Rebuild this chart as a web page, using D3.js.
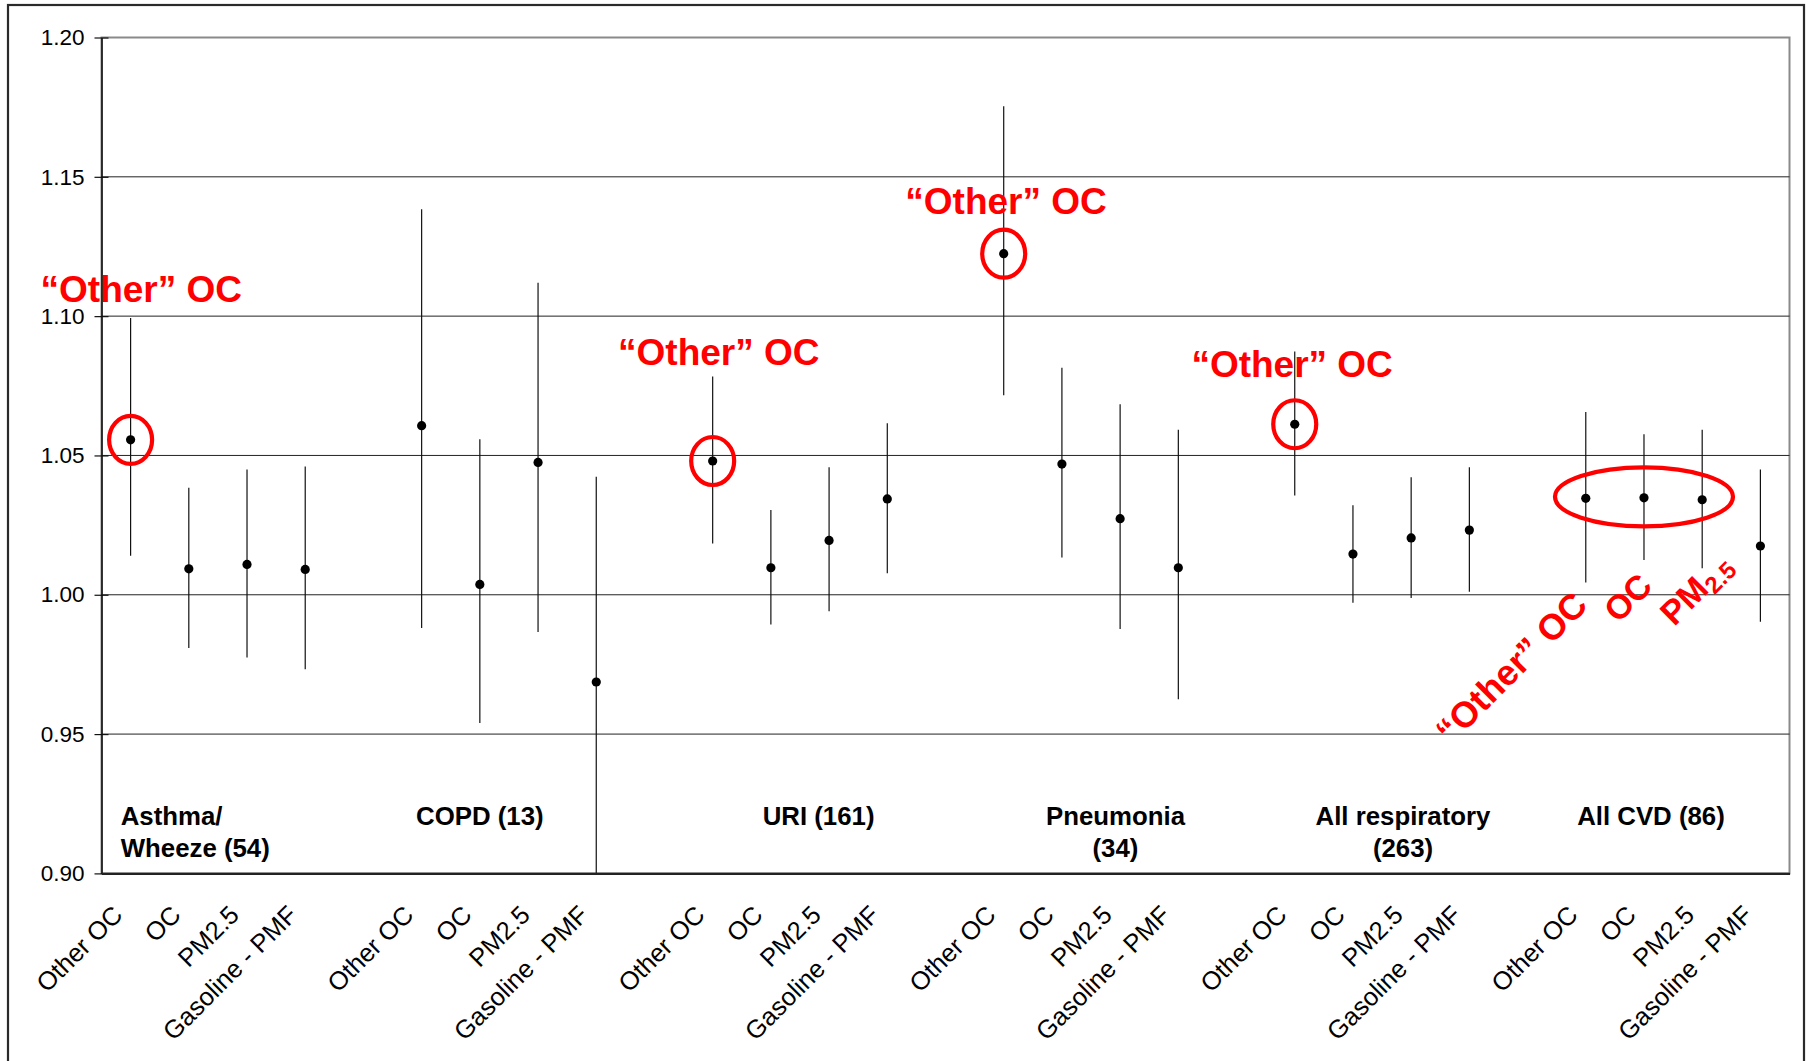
<!DOCTYPE html>
<html><head><meta charset="utf-8">
<script src="https://cdn.jsdelivr.net/npm/d3@7"></script>
<style>html,body{margin:0;padding:0;background:#fff;} svg{display:block;}</style>
</head><body>
<script>
// ---------------- data ----------------
const groupNames = [["Asthma/", "Wheeze (54)"], ["COPD (13)"], ["URI (161)"], ["Pneumonia", "(34)"], ["All respiratory", "(263)"], ["All CVD (86)"]];
const pollutants = ["Other OC", "OC", "PM2.5", "Gasoline - PMF"];
// rows = groups, columns = pollutants
const estimate = [
  [1.0556, 1.0093, 1.0109, 1.0091],
  [1.0607, 1.0037, 1.0475, 0.9687],
  [1.0480, 1.0097, 1.0195, 1.0344],
  [1.1224, 1.0469, 1.0273, 1.0097],
  [1.0612, 1.0146, 1.0204, 1.0232],
  [1.0346, 1.0348, 1.0341, 1.0175]
];
const lower = [
  [1.0140, 0.9809, 0.9775, 0.9733],
  [0.9881, 0.9540, 0.9866, 0.8950],
  [1.0184, 0.9893, 0.9941, 1.0077],
  [1.0716, 1.0134, 0.9877, 0.9625],
  [1.0356, 0.9971, 0.9988, 1.0011],
  [1.0044, 1.0125, 1.0095, 0.9903]
];
const upper = [
  [1.0993, 1.0384, 1.0450, 1.0460],
  [1.1384, 1.0558, 1.1120, 1.0424],
  [1.0783, 1.0304, 1.0458, 1.0616],
  [1.1753, 1.0815, 1.0684, 1.0592],
  [1.0873, 1.0321, 1.0422, 1.0458],
  [1.0656, 1.0576, 1.0592, 1.0450]
];
const yTicks = [0.90, 0.95, 1.00, 1.05, 1.10, 1.15, 1.20];
const circledGroups = [0, 2, 3, 4];      // "Other" OC highlighted
const ellipseGroup = 5;                  // All CVD: first three highlighted
const annotationText = "\u201COther\u201D OC";

// ---------------- layout ----------------
const W = 1809, H = 1061;
const L = 101.5, R = 1789.5, T = 37.5, B = 873.4;
const FONT = "'Liberation Sans', Arial, Helvetica, sans-serif";
const RED = "#FF0000";
const slotsPerGroup = pollutants.length + 1;
const nSlots = groupNames.length * slotsPerGroup - 1;

const x = d3.scaleLinear().domain([-0.5, nSlots - 0.5]).range([L, R]);
const y = d3.scaleLinear().domain([0.90, 1.20]).range([B, T]);

const points = [];
groupNames.forEach((g, gi) => pollutants.forEach((p, pi) => {
  points.push({g: gi, p: pi, name: p, slot: gi * slotsPerGroup + pi,
    est: estimate[gi][pi], lo: lower[gi][pi], hi: upper[gi][pi]});
}));

const svg = d3.select("body").append("svg").attr("width", W).attr("height", H)
  .style("font-family", FONT);

// outer frame
svg.append("rect").attr("x", 8).attr("y", 5).attr("width", 1796).attr("height", 1080)
  .attr("fill", "#fff").attr("stroke", "#2a2a2a").attr("stroke-width", 2.2);

// plot area border
svg.append("rect").attr("x", L).attr("y", T).attr("width", R - L).attr("height", B - T)
  .attr("fill", "none").attr("stroke", "#8a8a8a").attr("stroke-width", 2);

// gridlines
svg.append("g").selectAll("line").data(yTicks.filter(v => v > 0.9 && v < 1.2)).join("line")
  .attr("x1", L).attr("x2", R).attr("y1", d => y(d)).attr("y2", d => y(d))
  .attr("stroke", "#222").attr("stroke-width", 1);

// clip
svg.append("clipPath").attr("id", "plotclip").append("rect")
  .attr("x", L).attr("y", T).attr("width", R - L).attr("height", B - T);

const marks = svg.append("g").attr("clip-path", "url(#plotclip)");
marks.selectAll("line.err").data(points).join("line").attr("class", "err")
  .attr("x1", d => x(d.slot)).attr("x2", d => x(d.slot))
  .attr("y1", d => y(d.lo)).attr("y2", d => y(d.hi))
  .attr("stroke", "#111").attr("stroke-width", 1.2);
marks.selectAll("circle.pt").data(points).join("circle").attr("class", "pt")
  .attr("cx", d => x(d.slot)).attr("cy", d => y(d.est)).attr("r", 4.6).attr("fill", "#000");

// y axis
const yAxis = svg.append("g").attr("transform", `translate(${L},0)`)
  .call(d3.axisLeft(y).tickValues(yTicks).tickFormat(d3.format(".2f"))
    .tickSizeInner(7).tickSizeOuter(0).tickPadding(10));
yAxis.select(".domain").attr("stroke", "#111").attr("stroke-width", 1.6);
yAxis.selectAll(".tick line").attr("x1", 7).attr("stroke", "#111").attr("stroke-width", 1.2);
yAxis.selectAll(".tick text").attr("font-size", 22.5).attr("font-family", FONT).attr("fill", "#000");

// x axis
const xAxis = svg.append("g").attr("transform", `translate(0,${B})`)
  .call(d3.axisBottom(x).tickValues(points.map(d => d.slot))
    .tickFormat(s => points.find(d => d.slot === s).name).tickSize(0).tickSizeOuter(0));
xAxis.select(".domain").attr("stroke", "#222").attr("stroke-width", 2.2);
xAxis.selectAll(".tick text").attr("font-size", 25.5).attr("font-family", FONT).attr("fill", "#000")
  .attr("x", 0).attr("y", 0).attr("dy", 0)
  .attr("transform", "translate(-7,43) rotate(-45)").style("text-anchor", "end");

// group labels
const groupLabelLayout = [
  {dx: -0.17, anchor: "start"}, {dx: 1.0, anchor: "middle"}, {dx: 1.82, anchor: "middle"},
  {dx: 1.92, anchor: "middle"}, {dx: 1.86, anchor: "middle"}, {dx: 1.12, anchor: "middle"}
];
const gl = svg.append("g");
groupNames.forEach((lines, gi) => {
  const lay = groupLabelLayout[gi];
  const t = gl.append("text").attr("x", x(gi * slotsPerGroup + lay.dx)).attr("y", B - 48.4)
    .attr("text-anchor", lay.anchor).attr("font-size", 25.8).attr("font-weight", "bold").attr("fill", "#000");
  lines.forEach((ln, li) => t.append("tspan").attr("x", x(gi * slotsPerGroup + lay.dx))
    .attr("dy", li === 0 ? 0 : 31.7).text(ln));
});

// red circles
const ann = svg.append("g");
ann.selectAll("ellipse.c").data(points.filter(d => d.p === 0 && circledGroups.includes(d.g))).join("ellipse")
  .attr("cx", d => x(d.slot)).attr("cy", d => y(d.est)).attr("rx", 21.5).attr("ry", 24)
  .attr("fill", "none").attr("stroke", RED).attr("stroke-width", 4.2);
const eg = points.filter(d => d.g === ellipseGroup && d.p === 1)[0];
ann.append("ellipse").attr("cx", x(eg.slot)).attr("cy", y(eg.est) - 1).attr("rx", 89).attr("ry", 29.5)
  .attr("fill", "none").attr("stroke", RED).attr("stroke-width", 4.2);

// red horizontal labels
const redLabelLayout = [
  {g: 0, dx: 0.184, v: 1.1052}, {g: 2, dx: 0.105, v: 1.0823},
  {g: 3, dx: 0.04, v: 1.1367}, {g: 4, dx: -0.045, v: 1.078}
];
ann.selectAll("text.red").data(redLabelLayout).join("text").attr("class", "red")
  .attr("x", d => x(d.g * slotsPerGroup + d.dx)).attr("y", d => y(d.v))
  .attr("text-anchor", "middle").attr("font-size", 37).attr("font-weight", "bold")
  .attr("fill", RED).text(annotationText);

// red rotated labels for All CVD
const rotLayout = [
  {text: annotationText, sub: null, slot: 22.68, v: 0.9458, size: 36},
  {text: "OC", sub: null, slot: 25.556, v: 0.9895, size: 34},
  {text: "PM", sub: "2.5", slot: 26.52, v: 0.9884, size: 34}
];
rotLayout.forEach(d => {
  const t = ann.append("text")
    .attr("transform", `translate(${x(d.slot)},${y(d.v)}) rotate(-45)`)
    .attr("font-size", d.size).attr("font-weight", "bold").attr("fill", RED);
  t.append("tspan").text(d.text);
  if (d.sub) t.append("tspan").attr("font-size", 24).attr("dy", 6).text(d.sub);
});
</script>
</body></html>
